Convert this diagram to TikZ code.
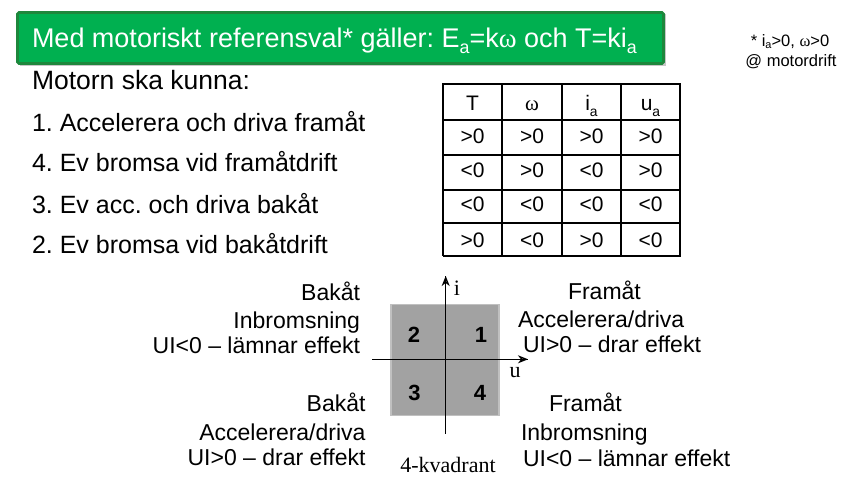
\documentclass[tikz,border=0pt]{standalone}
\usepackage{fontspec}
\setmainfont{Liberation Sans}
\newfontfamily\serifw{Liberation Serif}
\usetikzlibrary{arrows.meta}
\definecolor{bannergreen}{RGB}{0,176,80}
\definecolor{banneredge}{RGB}{30,135,60}
\definecolor{quadfill}{RGB}{162,162,162}
\definecolor{quadedge}{RGB}{192,192,192}
% lowered, smaller subscript letter
\newcommand\lowsub[2][-0.24em]{\raisebox{#1}{\scalebox{0.66}{#2}}}
\frenchspacing
\begin{document}
\begin{tikzpicture}[x=1pt,y=-1pt,
  every node/.style={inner sep=0pt, outer sep=0pt},
  headline/.style={font=\fontsize{27}{32}\selectfont, text=white},
  listtitle/.style={font=\fontsize{26.5}{31}\selectfont},
  listitem/.style={font=\fontsize{25}{30}\selectfont},
  note/.style={font=\fontsize{16.5}{20}\selectfont},
  cell/.style={font=\fontsize{21}{25}\selectfont, anchor=base},
  quadlabel/.style={font=\fontsize{23}{27}\selectfont},
  quadnum/.style={font=\bfseries\fontsize{22}{26}\selectfont, anchor=base},
  axislabel/.style={font=\serifw\fontsize{22}{26}\selectfont},
  axisline/.style={line width=1.3pt},
  axistip/.style={line width=1.3pt, -{Stealth[open,length=10pt,width=8pt,inset=3pt]}},
  grid/.style={line width=1.6pt}]
\useasboundingbox (0,0) rectangle (847,486);

% green headline banner with a soft shadow
\fill[black!22] (19.5,14.5) rectangle (665.5,66.5);
\node (banner) [draw=banneredge, line width=2.6pt, fill=bannergreen, rounded corners=1.5pt,
  minimum width=646pt, minimum height=51pt, anchor=north west] at (17.5,12.5) {};
\node (headtext) [headline, anchor=base west] at (32,47.5)
  {Med motoriskt referensval* gäller: E\lowsub{a}=k{\serifw ω} och T=ki\lowsub{a}};

% footnote on the reference directions
\node (fn1) [note, anchor=base] at (790,47) {* i\lowsub[-0.12em]{a}>0, {\serifw ω}>0};
\node (fn2) [note, anchor=base] at (791,66.5) {@ motordrift};

% list of required operating modes
\node (title) [listtitle, anchor=base west] at (32,89.5) {Motorn ska kunna:};
\node (m1) [listitem, anchor=base west] at (32,131.5) {1. Accelerera och driva framåt};
\node (m4) [listitem, anchor=base west] at (32,171.5) {4. Ev bromsa vid framåtdrift};
\node (m3) [listitem, anchor=base west] at (32,214) {3. Ev acc. och driva bakåt};
\node (m2) [listitem, anchor=base west] at (32,254) {2. Ev bromsa vid bakåtdrift};

% sign table
\foreach \yy in {84,120,155,190,223,256}
  \draw[grid] (442.5,\yy) -- (680.5,\yy);
\foreach \xx in {443,502,562,621,680}
  \draw[grid] (\xx,83.5) -- (\xx,256.5);
\node (hT) [cell] at (472.5,111) {T};
\node (hw) [cell] at (532,111) {\serifw ω};
\node (hi) [cell] at (591.5,111) {i\lowsub{a}};
\node (hu) [cell] at (650.5,111) {u\lowsub{a}};
\foreach \r/\yy/\a/\b/\c/\d in {1/144/>0/>0/>0/>0, 2/178/<0/>0/<0/>0, 3/212/<0/<0/<0/<0, 4/248/>0/<0/>0/<0}{
  \node (c\r1) [cell] at (472.5,\yy) {\a};
  \node (c\r2) [cell] at (532,\yy) {\b};
  \node (c\r3) [cell] at (591.5,\yy) {\c};
  \node (c\r4) [cell] at (650.5,\yy) {\d};
}

% four-quadrant diagram
\node (square) [draw=quadedge, line width=1.5pt, fill=quadfill,
  minimum width=108pt, minimum height=111pt] at (445,360) {};
\coordinate (iorig) at (445.7,434);
\coordinate (itip) at (445.7,276);
\coordinate (uorig) at (372,359.3);
\coordinate (utip) at (528,359.3);
\draw[axisline] (iorig) -- (itip);
\draw[axisline] (uorig) -- (utip);
\draw[axistip] (iorig) -- (itip);
\draw[axistip] (uorig) -- (utip);
\node (ilab) [axislabel, anchor=base] at (457,296) {i};
\node (ulab) [axislabel, anchor=base] at (515,378) {u};
\node (q2) [quadnum] at (414,343) {2};
\node (q1) [quadnum] at (481,343) {1};
\node (q3) [quadnum] at (414.5,401) {3};
\node (q4) [quadnum] at (480,401) {4};
\node (kv) [axislabel, anchor=base] at (448,473) {4-kvadrant};

% quadrant descriptions
\node (b2a) [quadlabel, anchor=base east] at (360,301) {Bakåt};
\node (b2b) [quadlabel, anchor=base east] at (360,329) {Inbromsning};
\node (b2c) [quadlabel, anchor=base east] at (360,354) {UI<0 – lämnar effekt};
\node (b3a) [quadlabel, anchor=base east] at (365.5,412) {Bakåt};
\node (b3b) [quadlabel, anchor=base east] at (365.5,441) {Accelerera/driva};
\node (b3c) [quadlabel, anchor=base east] at (365.5,466) {UI>0 – drar effekt};
\node (f1a) [quadlabel, anchor=base west] at (568,300) {Framåt};
\node (f1b) [quadlabel, anchor=base west] at (518,328) {Accelerera/driva};
\node (f1c) [quadlabel, anchor=base west] at (523,353) {UI>0 – drar effekt};
\node (f4a) [quadlabel, anchor=base west] at (549,412) {Framåt};
\node (f4b) [quadlabel, anchor=base west] at (521,441) {Inbromsning};
\node (f4c) [quadlabel, anchor=base west] at (523,467) {UI<0 – lämnar effekt};
\end{tikzpicture}
\end{document}
